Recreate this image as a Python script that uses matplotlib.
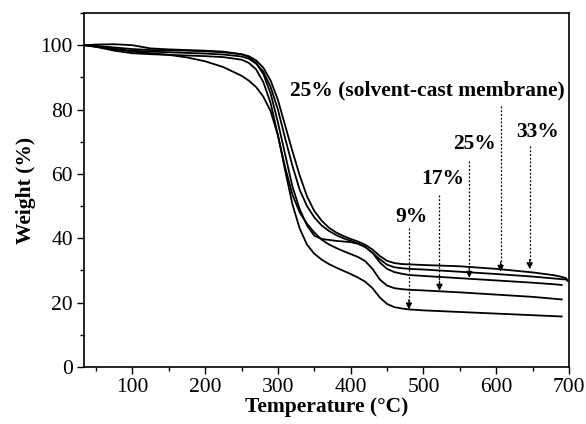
import matplotlib
matplotlib.use('Agg')
import matplotlib.pyplot as plt
from matplotlib.ticker import MultipleLocator

plt.rcParams['font.family'] = ['Liberation Serif', 'DejaVu Serif']

# temperature grid (deg C) shared by all TGA curves
temp = [35, 50, 75, 100, 125, 150, 175, 200, 225, 250, 260, 270, 280, 290,
        300, 310, 320, 330, 340, 350, 360, 370, 380, 390, 400, 410, 420, 430,
        440, 450, 460, 470, 480, 500, 550, 600, 650, 680, 690]

w_9 = [100, 99.6, 98.8, 98.0, 97.5, 97.0, 96.2, 95.0, 93.2, 90.5, 89.0, 87.0,
       84.0, 79.5, 72, 61, 50.5, 43, 38, 35.2, 33.4, 32.0, 30.9, 29.9, 28.9,
       27.8, 26.5, 24.5, 21.6, 19.6, 18.6, 18.2, 17.9, 17.6, 17.1, 16.6, 16.1,
       15.8, 15.7]
w_17 = [100, 99.5, 98.3, 97.5, 97.2, 97.0, 96.8, 96.6, 96.3, 95.5, 94.5, 92.5,
        88.5, 82, 72, 62, 53.5, 48, 44.5, 41.8, 39.6, 38.1, 37, 36, 35.1, 34.2,
        32.9, 30.5, 27.2, 25.3, 24.5, 24.2, 24.0, 23.8, 23.2, 22.5, 21.8, 21.2,
        21.0]
w_25 = [100, 100.2, 100.3, 100, 99, 98.7, 98.5, 98.3, 98.0, 97.2, 96.3, 94.5,
        91, 85, 76, 66, 56, 49, 44, 40.8, 39.8, 39.5, 39.2, 39.0, 38.8, 38.3,
        37.3, 35.5, 32.5, 30.5, 29.5, 29.0, 28.6, 28.3, 27.6, 26.9, 26.2, 25.7,
        25.5]
w_25sc = [100, 99.5, 98.8, 98.3, 98.0, 97.8, 97.6, 97.4, 97.1, 96.5, 95.8, 94.3,
          91.8, 87, 80, 71, 62.5, 55, 50, 46.5, 44, 42.3, 41, 40, 39.2, 38.4,
          37.3, 35.5, 33.5, 31.8, 31.0, 30.7, 30.5, 30.3, 29.6, 28.9, 28.1,
          27.5, 27.3]
w_33 = [100, 99.8, 99.3, 98.8, 98.5, 98.4, 98.3, 98.1, 97.8, 97.2, 96.6, 95.3,
        93, 89, 83, 75, 67, 59.5, 53, 48.5, 45.5, 43.3, 41.8, 40.7, 39.8, 39.0,
        38.0, 36.5, 34.5, 33.0, 32.3, 32.0, 31.9, 31.7, 31.3, 30.5, 29.4, 28.5,
        28.0]
# the two upper curves run a little past 690 and hook down
tail_t = [696, 698]
tail_25sc = [27.2, 26.9]
tail_33 = [27.6, 26.8]

# labels: text, text x, text y, arrow x, arrow start y, arrow tip y
labels = ['9%', '17%', '25%', '25% (solvent-cast membrane)', '33%']
label_x = [483, 526, 570, 316, 657]
label_y = [46.7, 58.3, 69.2, 86, 72.9]
arrow_x = [480, 522, 563, 606, 646]
arrow_top = [43.3, 53.6, 64, 81, 68.6]
arrow_tip = [17.9, 23.7, 27.7, 29.6, 30.4]

fs = 15.5

fig = plt.figure(figsize=(5.86, 4.24), dpi=100)
ax = fig.add_axes([0.1433, 0.1344, 0.8277, 0.8349])

for w in (w_9, w_17, w_25):
    ax.plot(temp, w, color='black', lw=1.3)
ax.plot(temp + tail_t, w_25sc + tail_25sc, color='black', lw=1.3)
ax.plot(temp + tail_t, w_33 + tail_33, color='black', lw=1.3)

for i, lab in enumerate(labels):
    if i == 3:
        ax.text(label_x[i], label_y[i], lab, fontsize=fs, fontweight='bold',
                ha='left', va='center')
    else:
        ax.text(label_x[i], label_y[i], lab, fontsize=fs, fontweight='bold',
                ha='center', va='center')
    ax.plot([arrow_x[i], arrow_x[i]], [arrow_top[i], arrow_tip[i] + 2],
            color='black', lw=0.9, ls=(0, (1.5, 1.5)))
    ax.annotate('', xy=(arrow_x[i], arrow_tip[i]),
                xytext=(arrow_x[i], arrow_tip[i] + 3),
                arrowprops=dict(arrowstyle='-|>', color='black', lw=0.9,
                                mutation_scale=9, shrinkA=0, shrinkB=0))

ax.set_xlim(33.5, 700)
ax.set_ylim(0, 110)
ax.xaxis.set_major_locator(MultipleLocator(100))
ax.xaxis.set_minor_locator(MultipleLocator(50))
ax.yaxis.set_major_locator(MultipleLocator(20))
ax.yaxis.set_minor_locator(MultipleLocator(10))
ax.tick_params(which='both', direction='out', top=False, right=False,
               labelsize=fs, width=1.0)
ax.tick_params(which='major', length=5, pad=3)
ax.tick_params(which='minor', length=3)
for s in ax.spines.values():
    s.set_linewidth(1.2)

ax.set_xlabel('Temperature (°C)', fontsize=fs, fontweight='bold', labelpad=0)
ax.set_ylabel('Weight (%)', fontsize=fs, fontweight='bold', labelpad=3)

fig.savefig('out.png', dpi=100)
